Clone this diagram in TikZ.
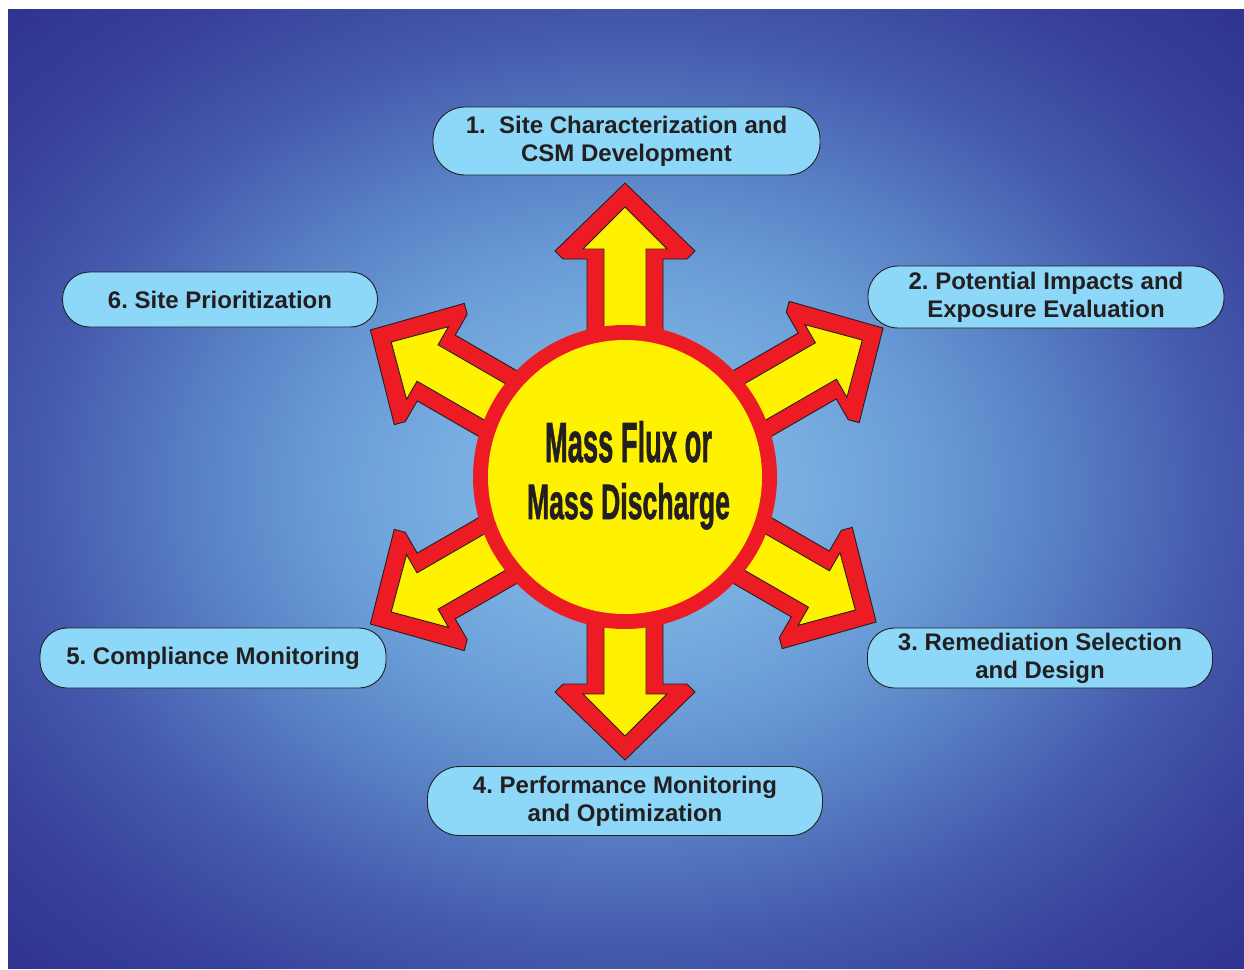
\documentclass[tikz,border=0pt]{standalone}
\usepackage{fontspec}
\setmainfont{Liberation Sans}
\newfontfamily\hubfont[FakeBold=1.5]{Liberation Sans}
\usepackage{graphicx}
\definecolor{myred}{HTML}{ED1C24}
\definecolor{myyellow}{HTML}{FFF200}
\definecolor{myink}{HTML}{231F20}
\definecolor{boxblue}{HTML}{8DD8F8}
\definecolor{bgA}{HTML}{82B8E6}
\definecolor{bgB}{HTML}{78AEE0}
\definecolor{bgC}{HTML}{6A9DD7}
\definecolor{bgD}{HTML}{5A83C6}
\definecolor{bgE}{HTML}{4459AC}
\definecolor{bgF}{HTML}{37409B}
\definecolor{bgG}{HTML}{2F3290}
\pgfdeclareradialshading{bgshade}{\pgfpoint{0bp}{0bp}}{color(0bp)=(bgA); color(3bp)=(bgA); color(7bp)=(bgB); color(12bp)=(bgC); color(17bp)=(bgD); color(24bp)=(bgE); color(30bp)=(bgF); color(36bp)=(bgG); color(50bp)=(bgG)}
\newcommand\boxfont{\frenchspacing\bfseries\fontsize{24}{28}\selectfont}
\tikzset{
  redarrow/.style={fill=myred, draw=myink, line width=0.9pt, line join=miter},
  yelarrow/.style={fill=myyellow, draw=myink, line width=0.9pt, line join=miter},
  stepbox/.style={draw=myink, line width=0.9pt, fill=boxblue, rounded corners=27pt,
    align=center, text=myink, font=\boxfont, inner sep=0pt},
}
\newcommand\flowarrow[2]{%
  \begin{scope}[shift={(625,477)}, rotate=#1]
  \begin{scope}[xshift=#2pt]
    \draw[redarrow] (140,38) -- (218,38) -- (218,62) -- (226,70) -- (294,0)
      -- (226,-70) -- (218,-62) -- (218,-38) -- (140,-38) -- cycle;
    \draw[yelarrow] (140,21) -- (228,21) -- (228,42) -- (270,0)
      -- (228,-42) -- (228,-21) -- (140,-21) -- cycle;
  \end{scope}
  \end{scope}}
\begin{document}
\begin{tikzpicture}[x=1pt, y=-1pt]
\useasboundingbox (0,0) rectangle (1244,969);
\fill[white] (0,0) rectangle (1244,969);
\shade[shading=bgshade] (8,9) rectangle (1244,968);

% arrows
\flowarrow{90}{0}
\flowarrow{30}{4}
\flowarrow{-30}{-4}
\flowarrow{-90}{-11}
\flowarrow{-150}{0}
\flowarrow{150}{0}

% hub
\node[circle, fill=myred, minimum size=304pt, inner sep=0pt] (hub) at (625,477) {};
\node[circle, fill=myyellow, minimum size=274pt, inner sep=0pt] (hubin) at (625,477) {};
\node[anchor=base, inner sep=0pt, text=myink] (t1) at (628.5,462)
  {\resizebox{167pt}{41pt}{\hubfont\bfseries Mass Flux or}};
\node[anchor=base, inner sep=0pt, text=myink] (t2) at (628.5,519)
  {\resizebox{203pt}{36pt}{\hubfont\bfseries Mass Discharge}};

% steps
\node[stepbox, rounded corners=32pt, minimum width=387pt, minimum height=68pt] (s1) at (626.5,141)
  {1.\ \ Site Characterization and\\CSM Development};
\node[stepbox, rounded corners=30pt, minimum width=356pt, minimum height=62pt] (s2) at (1046,297)
  {2. Potential Impacts and\\Exposure Evaluation};
\node[stepbox, minimum width=345pt, minimum height=60pt] (s3) at (1040,658)
  {3. Remediation Selection\\and Design};
\node[stepbox, rounded corners=32pt, minimum width=395pt, minimum height=69pt] (s4) at (625,801)
  {4. Performance Monitoring\\and Optimization};
\node[stepbox, minimum width=346pt, minimum height=60pt] (s5) at (213,658)
  {5. Compliance Monitoring};
\node[stepbox, minimum width=315pt, minimum height=55pt] (s6) at (220,299.5)
  {6. Site Prioritization};
\end{tikzpicture}
\end{document}
